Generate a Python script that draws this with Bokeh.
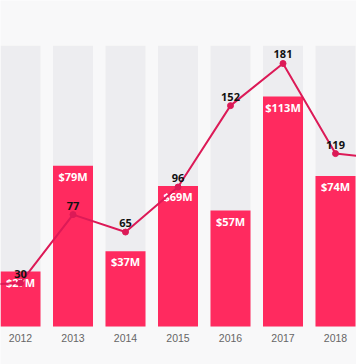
from bokeh.plotting import figure
from bokeh.models import Range1d, ColumnDataSource
from bokeh.core.properties import value
from bokeh.embed import file_html
from bokeh.resources import INLINE

# data
bar_years = [2012, 2013, 2014, 2015, 2016, 2017, 2018]
bar_values = [27, 79, 37, 69, 57, 113, 74]          # $M
bar_labels = ["$27M", "$79M", "$37M", "$69M", "$57M", "$113M", "$74M"]
line_years = [2011, 2012, 2013, 2014, 2015, 2016, 2017, 2018, 2019]
line_values = [28, 30, 77, 65, 96, 152, 181, 119, 115]
label_years = [2012, 2013, 2014, 2015, 2016, 2017, 2018]
label_values = [30, 77, 65, 96, 152, 181, 119]
tick_labels = ["2012", "2013", "2014", "2015", "2016", "2017", "2018"]

BG = "#f8f8f9"
COL_BG = "#ededf0"
BAR = "#ff2a5f"
LINE = "#dc1a57"

p = figure(width=356, height=364, output_backend="svg", toolbar_location=None,
           x_range=Range1d(2011.619, 2018.4), y_range=Range1d(-18.67, 160.2),
           min_border=0, min_border_left=0, min_border_right=0,
           min_border_top=0, min_border_bottom=0)
p.extra_y_ranges = {"line": Range1d(-26.15, 224.35)}
p.background_fill_color = BG
p.border_fill_color = BG
p.outline_line_color = None
p.xaxis.visible = False
p.yaxis.visible = False
p.xgrid.visible = False
p.ygrid.visible = False

bw = 40 / 52.5
col_top = 138
# background columns
p.vbar(x=bar_years, top=[col_top] * len(bar_years), bottom=0, width=bw,
       fill_color=COL_BG, line_color=None)
# bars
src = ColumnDataSource(dict(x=bar_years, top=bar_values, lab=bar_labels))
p.vbar(x="x", top="top", bottom=0, width=bw, fill_color=BAR, line_color=None, source=src)
p.text(x="x", y="top", text="lab", source=src, text_color="white",
       text_font=value("Open Sans"), text_font_style="bold", text_font_size="11px",
       text_align="center", text_baseline="top", y_offset=3)

# line
p.line(x=line_years, y=line_values, y_range_name="line", line_color=LINE, line_width=2)
p.scatter(x=line_years, y=line_values, y_range_name="line", size=6,
          fill_color=LINE, line_color=LINE)
p.text(x=label_years, y=label_values, text=[str(v) for v in label_values],
       y_range_name="line", text_color="#111111",
       text_font=value("Open Sans"), text_font_style="bold", text_font_size="11px",
       text_align="center", text_baseline="bottom", y_offset=-5)

# year labels
p.text(x=bar_years, y=[0] * len(bar_years), text=tick_labels, text_color="#666666",
       text_font=value("Liberation Sans"), text_font_size="10.5px",
       text_align="center", text_baseline="middle", y_offset=11)

open("out.html", "w").write(file_html(p, INLINE))
